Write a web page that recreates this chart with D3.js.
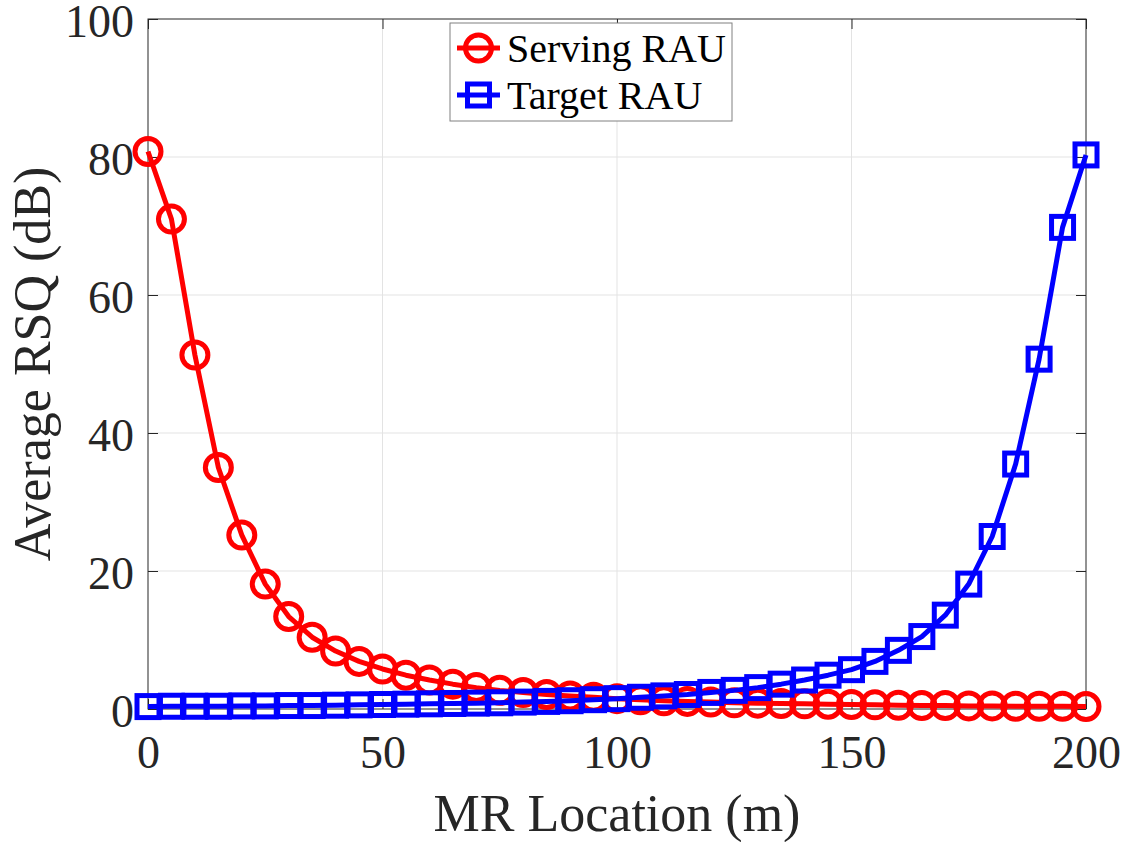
<!DOCTYPE html>
<html>
<head>
<meta charset="utf-8">
<script src="https://cdn.jsdelivr.net/npm/d3@7"></script>
<style>
body { margin: 0; background: #fff; }
svg text { font-family: "Liberation Serif", Tinos, "Times New Roman", Times, "DejaVu Serif", serif; }
.axisClass text { font-size: 46px; fill: #262626; }
.axisClass line, .axisClass path { stroke: #262626; stroke-width: 1; }
</style>
</head>
<body>
<div id="chart"></div>
<script>

// MR location (m)
const location_m = [0,5,10,15,20,25,30,35,40,45,50,55,60,65,70,75,80,85,90,95,100,
                    105,110,115,120,125,130,135,140,145,150,155,160,165,170,175,180,185,190,195,200]

// average RSQ (dB)
const servingRAU = [80.8,71,51.3,35,25.2,18.1,13.4,10.4,8.4,6.9,5.8,4.9,4.2,3.6,3.1,2.7,2.4,2.1,1.9,1.7,1.5,
                    1.35,1.2,1.1,1.0,0.9,0.85,0.8,0.75,0.7,0.65,0.6,0.55,0.5,0.5,0.45,0.45,0.4,0.4,0.4,0.35]
const targetRAU = [0.35,0.4,0.4,0.4,0.45,0.45,0.5,0.5,0.55,0.6,0.65,0.7,0.75,0.8,0.85,0.9,1.0,1.1,1.2,1.35,1.5,
                   1.7,1.9,2.1,2.4,2.7,3.1,3.6,4.2,4.9,5.7,6.9,8.5,10.5,13.6,18.1,25,35.5,50.7,69.8,80.3]

const seriesNames = ["Serving RAU", "Target RAU"]
const xTicks = [0, 50, 100, 150, 200]
const yTicks = [0, 20, 40, 60, 80, 100]

const config = {
    top: 19,
    right: 47,
    bottom: 133,
    left: 148,
}

const width = 1133
const height = 842

const xScale = d3.scaleLinear().domain([0, 200]).range([config.left, width - config.right])
const yScale = d3.scaleLinear().domain([0, 100]).range([height - config.bottom, config.top])

const svg = d3.select('#chart').append('svg').attr("width", width).attr("height", height)

svg.append('rect').attr("width", width).attr("height", height).attr("fill", "white")

// grid
svg.selectAll('line.gridX')
    .data(xTicks.slice(1, -1))
    .enter()
    .append('line')
    .attr("x1", d => xScale(d))
    .attr("x2", d => xScale(d))
    .attr("y1", yScale(0))
    .attr("y2", yScale(100))
    .attr("stroke", "#e3e3e3")
    .attr("stroke-width", 1)

svg.selectAll('line.gridY')
    .data(yTicks.slice(1, -1))
    .enter()
    .append('line')
    .attr("x1", xScale(0))
    .attr("x2", xScale(200))
    .attr("y1", d => yScale(d))
    .attr("y2", d => yScale(d))
    .attr("stroke", "#e3e3e3")
    .attr("stroke-width", 1)

// axes (box on, ticks pointing in)
const axisBottom = d3.axisBottom(xScale).tickValues(xTicks).tickSize(-10).tickPadding(26)
const axisLeft = d3.axisLeft(yScale).tickValues(yTicks).tickSize(-10).tickPadding(14)
const axisTop = d3.axisTop(xScale).tickValues(xTicks).tickSize(-10).tickFormat("")
const axisRight = d3.axisRight(yScale).tickValues(yTicks).tickSize(-10).tickFormat("")

svg.append('g').attr('class', "axisClass")
    .attr("transform", `translate(0,${yScale(0)})`)
    .call(axisBottom)
svg.append('g').attr('class', "axisClass")
    .attr("transform", `translate(${xScale(0)},0)`)
    .call(axisLeft)
    .selectAll("text").attr("dy", "0.38em")
svg.append('g').attr('class', "axisClass")
    .attr("transform", `translate(0,${yScale(100)})`)
    .call(axisTop)
svg.append('g').attr('class', "axisClass")
    .attr("transform", `translate(${xScale(200)},0)`)
    .call(axisRight)

svg.selectAll('.axisClass').attr("font-family", null)
svg.selectAll('.axisClass path.domain').attr("d", null)
svg.append('rect')
    .attr("x", xScale(0))
    .attr("y", yScale(100))
    .attr("width", xScale(200) - xScale(0))
    .attr("height", yScale(0) - yScale(100))
    .attr("fill", "none")
    .attr("stroke", "#262626")
    .attr("stroke-width", 1)

// axis titles
svg.append('text')
    .attr("x", (xScale(0) + xScale(200)) / 2)
    .attr("y", 831)
    .attr("text-anchor", "middle")
    .style("font-size", "52px")
    .attr("fill", "#262626")
    .text("MR Location (m)")

svg.append('text')
    .attr("transform", `translate(50,${(yScale(0) + yScale(100)) / 2}) rotate(-90)`)
    .attr("text-anchor", "middle")
    .style("font-size", "52px")
    .attr("fill", "#262626")
    .text("Average RSQ (dB)")

// lines
const lineGenerator = d3.line()
    .x((d, i) => xScale(location_m[i]))
    .y(d => yScale(d))
    .curve(d3.curveLinear)

const lineW = 5

svg.append('path')
    .datum(servingRAU)
    .attr("d", lineGenerator)
    .attr("fill", "none")
    .attr("stroke", "#ff0000")
    .attr("stroke-width", lineW)
    .attr("stroke-linejoin", "round")

svg.selectAll('circle.serving')
    .data(servingRAU)
    .enter()
    .append('circle')
    .attr("cx", (d, i) => xScale(location_m[i]))
    .attr("cy", d => yScale(d))
    .attr("r", 13)
    .attr("fill", "none")
    .attr("stroke", "#ff0000")
    .attr("stroke-width", lineW)

svg.append('path')
    .datum(targetRAU)
    .attr("d", lineGenerator)
    .attr("fill", "none")
    .attr("stroke", "#0000ff")
    .attr("stroke-width", lineW)
    .attr("stroke-linejoin", "round")

const sq = 22
svg.selectAll('rect.target')
    .data(targetRAU)
    .enter()
    .append('rect')
    .attr("x", (d, i) => xScale(location_m[i]) - sq / 2)
    .attr("y", d => yScale(d) - sq / 2)
    .attr("width", sq)
    .attr("height", sq)
    .attr("fill", "none")
    .attr("stroke", "#0000ff")
    .attr("stroke-width", lineW)

// legend
const legend = svg.append('g').attr("transform", "translate(450,23)")
legend.append('rect')
    .attr("width", 282)
    .attr("height", 98)
    .attr("fill", "white")
    .attr("stroke", "#808080")
    .attr("stroke-width", 1)

const rowY = [25, 72]
const colors = ["#ff0000", "#0000ff"]

seriesNames.forEach(function (name, i) {
    legend.append('line')
        .attr("x1", 7).attr("x2", 50)
        .attr("y1", rowY[i]).attr("y2", rowY[i])
        .attr("stroke", colors[i])
        .attr("stroke-width", lineW)
    if (i == 0) {
        legend.append('circle')
            .attr("cx", 28.5).attr("cy", rowY[i]).attr("r", 13)
            .attr("fill", "none").attr("stroke", colors[i]).attr("stroke-width", lineW)
    } else {
        legend.append('rect')
            .attr("x", 28.5 - sq / 2).attr("y", rowY[i] - sq / 2)
            .attr("width", sq).attr("height", sq)
            .attr("fill", "none").attr("stroke", colors[i]).attr("stroke-width", lineW)
    }
    legend.append('text')
        .attr("x", 57)
        .attr("y", rowY[i] + 14)
        .style("font-size", "40px")
        .attr("fill", "black")
        .text(name)
})

</script>
</body>
</html>
